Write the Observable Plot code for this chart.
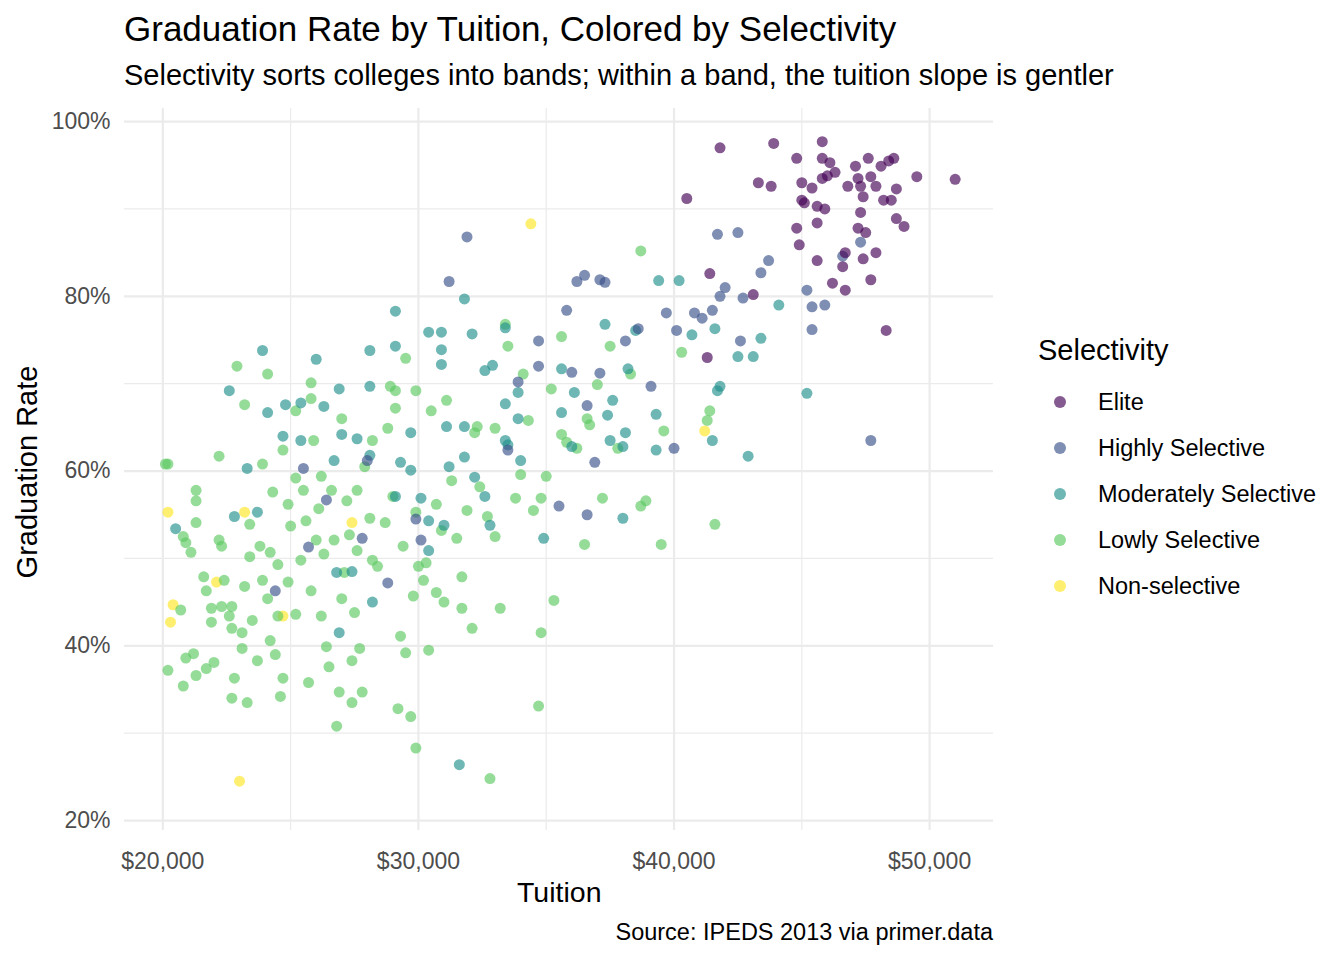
<!DOCTYPE html>
<html><head><meta charset="utf-8">
<script src="https://cdn.jsdelivr.net/npm/d3@7"></script>
<script src="https://cdn.jsdelivr.net/npm/@observablehq/plot@0.6"></script>
<style>
body{margin:0;background:#fff;font-family:"Liberation Sans",Arial,sans-serif;}
#wrap{position:relative;width:1344px;height:960px;}
.t{position:absolute;white-space:nowrap;color:#000;line-height:1;}
</style></head><body>
<div id="wrap">
<div class="t" style="left:124px;top:11px;font-size:35px">Graduation Rate by Tuition, Colored by Selectivity</div>
<div class="t" style="left:124px;top:61px;font-size:29px">Selectivity sorts colleges into bands; within a band, the tuition slope is gentler</div>
<div id="chart" style="position:absolute;left:0;top:100px"></div>
<div class="t" style="left:517px;top:878px;font-size:28.5px">Tuition</div>
<div class="t" style="left:27px;top:472px;font-size:29px;transform:translate(-50%,-50%) rotate(-90deg)">Graduation Rate</div>
<div class="t" style="right:351px;top:921px;font-size:23.5px">Source: IPEDS 2013 via primer.data</div>
<div id="legend"></div>
</div>
<script>
const categories=["Elite","Highly Selective","Moderately Selective","Lowly Selective","Non-selective"];
const colors=["#440154","#3b528b","#21918c","#5ec962","#fde725"];
const xTicks=[20,30,40,50];
const yTicks=[20,40,60,80,100];
// [tuition in $1000s, graduation rate %]
const elite=[[40.5,91.2],[41.8,97.0],[43.9,97.5],[43.3,93.0],[43.8,92.6],[44.8,95.8],[45.8,97.7],[45.8,95.8],[45.0,93.0],[45.4,92.4],[45.0,91.0],[45.1,90.7],[45.6,90.3],[45.9,90.0],[45.8,93.5],[46.0,93.8],[46.1,95.3],[46.3,94.2],[46.8,92.6],[47.1,94.9],[47.2,93.5],[47.3,92.6],[47.4,91.4],[47.6,95.8],[47.7,93.7],[47.9,92.6],[48.1,94.9],[48.4,95.5],[48.6,95.8],[48.7,92.3],[48.2,91.0],[48.5,91.0],[48.7,88.9],[49.0,88.0],[49.5,93.7],[51.0,93.4],[47.3,89.6],[47.2,87.8],[47.5,87.3],[47.4,84.3],[47.9,85.0],[45.6,88.4],[44.8,87.8],[44.9,85.9],[45.6,84.1],[46.7,85.0],[46.2,81.5],[46.7,80.7],[47.7,81.9],[43.1,80.2],[41.4,82.6],[41.3,73.0],[48.3,76.1],[46.6,83.4]];
const highly=[[31.9,86.8],[31.2,81.7],[36.2,81.7],[36.5,82.4],[37.1,81.9],[37.3,81.6],[35.8,78.4],[34.7,74.9],[34.7,72.0],[37.1,71.2],[36.0,71.3],[36.6,67.5],[38.1,74.9],[38.6,76.3],[39.7,78.1],[40.8,78.1],[41.1,77.5],[41.7,87.1],[42.5,87.3],[42.0,81.0],[41.8,80.0],[42.7,79.8],[42.6,74.9],[43.7,84.1],[43.4,82.7],[45.2,80.7],[45.4,78.8],[45.4,76.2],[45.9,79.0],[47.3,86.2],[46.6,84.6],[47.7,63.5],[40.0,62.6],[36.9,61.0],[35.5,56.0],[36.6,55.0],[40.1,76.1],[41.5,78.4],[33.9,70.2],[33.5,62.4],[29.9,54.5],[27.8,52.3],[24.4,46.3],[25.7,51.3],[25.5,60.3],[28.8,47.2],[28.0,61.2],[39.1,69.7],[26.4,56.7],[30.1,52.1]];
const moderately=[[23.9,73.8],[26.0,72.8],[29.1,78.3],[29.1,74.3],[31.8,79.7],[30.4,75.9],[30.9,75.9],[30.9,73.9],[30.9,72.2],[32.1,75.7],[33.4,76.4],[32.6,71.5],[32.9,72.1],[33.4,67.7],[33.9,69.0],[35.6,71.7],[37.3,76.8],[38.5,76.1],[39.4,81.8],[40.2,81.8],[40.7,75.6],[41.6,76.3],[41.7,69.2],[41.5,63.5],[42.5,73.1],[43.1,73.1],[43.4,75.2],[44.1,79.0],[42.9,61.7],[45.2,68.9],[41.8,69.7],[38.2,71.7],[37.6,68.1],[36.1,69.0],[35.6,66.7],[37.4,66.4],[38.0,62.8],[36.0,62.8],[38.1,64.4],[39.3,62.4],[39.3,66.5],[37.5,63.5],[38.0,54.6],[33.9,66.0],[33.4,63.5],[33.5,63.0],[34.0,61.2],[32.2,59.3],[32.6,57.1],[31.8,61.6],[31.8,65.1],[31.2,60.5],[30.4,54.3],[31.0,53.8],[30.4,50.9],[30.1,56.9],[29.7,60.1],[29.3,61.0],[29.1,57.1],[29.7,64.4],[28.1,69.7],[28.1,61.8],[27.6,63.7],[27.0,64.2],[26.7,61.2],[26.3,67.4],[25.4,67.8],[25.4,63.5],[24.8,67.6],[24.7,64.0],[24.1,66.7],[26.9,69.4],[28.1,73.8],[27.4,48.5],[26.8,48.4],[26.9,41.5],[28.2,45.0],[23.7,55.3],[22.8,54.8],[22.6,69.2],[23.3,60.3],[20.5,53.4],[31.6,26.4],[34.9,52.3],[32.8,53.8],[31.1,65.1]];
const lowly=[[20.1,60.8],[20.2,60.8],[20.2,37.2],[20.7,44.1],[20.8,35.4],[20.9,38.6],[20.9,51.8],[20.8,52.5],[21.1,50.7],[21.3,56.6],[21.3,57.8],[21.3,54.1],[21.2,39.1],[21.3,36.6],[21.6,47.9],[21.7,46.3],[21.7,37.4],[21.9,42.7],[21.9,44.3],[22.0,38.1],[22.2,61.7],[22.2,52.1],[22.3,51.4],[22.3,44.5],[22.4,47.5],[22.6,43.4],[22.7,44.5],[22.7,42.0],[22.8,36.3],[22.7,34.0],[22.9,72.0],[23.1,41.5],[23.1,39.7],[23.2,46.8],[23.2,67.6],[23.3,33.5],[23.4,53.9],[23.4,50.2],[23.5,42.9],[23.7,38.3],[23.8,51.4],[23.9,47.5],[23.9,60.8],[24.1,71.1],[24.1,45.4],[24.2,50.7],[24.2,40.6],[24.3,57.6],[24.4,39.0],[24.5,49.3],[24.5,43.4],[24.6,34.2],[24.7,36.3],[24.7,62.4],[24.9,56.2],[24.9,47.3],[25.0,53.7],[25.2,66.9],[25.2,43.6],[25.2,59.2],[25.4,49.8],[25.5,57.8],[25.6,54.3],[25.7,35.8],[25.8,70.1],[25.8,46.3],[25.9,63.5],[26.0,52.1],[26.1,55.7],[26.2,43.4],[26.2,59.4],[26.3,50.5],[26.4,39.9],[26.5,37.6],[26.6,57.8],[26.7,52.1],[26.8,30.8],[26.9,34.7],[27.0,45.4],[27.0,66.0],[27.1,48.4],[27.2,56.6],[27.3,52.7],[27.4,33.5],[27.4,38.3],[27.5,43.8],[27.6,50.9],[27.6,57.8],[27.7,39.7],[27.8,34.7],[27.9,60.5],[28.1,54.6],[28.2,63.5],[28.2,49.8],[28.4,49.1],[28.7,54.1],[28.8,64.9],[28.9,69.7],[29.0,57.1],[29.1,67.2],[29.2,32.8],[29.3,41.1],[29.4,51.4],[29.5,72.9],[29.5,39.2],[29.7,31.9],[29.8,45.7],[29.9,28.3],[29.9,55.3],[30.0,49.1],[30.2,47.5],[30.3,49.5],[30.4,39.5],[30.5,66.9],[30.7,56.2],[30.7,46.1],[30.9,53.2],[31.0,45.0],[31.1,68.1],[31.3,58.9],[31.5,52.3],[31.7,47.9],[31.7,44.3],[31.9,55.5],[32.1,42.0],[32.2,64.4],[32.4,58.2],[32.7,54.8],[32.8,24.8],[33.0,64.9],[33.0,52.5],[33.2,44.3],[33.4,76.8],[33.5,74.3],[33.8,56.9],[34.0,59.6],[34.1,71.1],[34.3,65.8],[34.5,55.5],[34.7,33.1],[34.8,56.9],[34.8,41.5],[35.0,59.4],[35.2,69.4],[35.3,45.2],[35.6,75.4],[35.8,63.3],[36.2,62.6],[36.5,51.6],[36.7,65.3],[37.0,69.9],[37.2,56.9],[37.5,74.3],[37.8,62.6],[38.3,71.1],[38.7,85.2],[38.7,56.0],[38.9,56.6],[39.5,51.6],[39.6,64.6],[40.3,73.6],[41.4,66.9],[41.6,53.9],[41.3,65.8],[36.6,66.0],[35.6,64.2],[32.3,65.1],[29.9,69.2],[29.1,69.2],[25.8,68.3]];
const nonselective=[[20.2,55.3],[20.3,42.7],[20.4,44.7],[22.1,47.3],[23.0,24.5],[23.2,55.3],[24.7,43.4],[27.4,54.1],[34.4,88.3],[41.2,64.6]];

const groups=[elite,highly,moderately,lowly,nonselective];
const data=groups.flatMap((g,i)=>g.map(([x,y])=>({tuition:x,rate:y,sel:categories[i]})));
data.reverse();
const chart=Plot.plot({
  width:1000,height:830,marginLeft:124,marginRight:7,marginTop:8,marginBottom:100,
  style:{fontFamily:"Liberation Sans, Arial, sans-serif",color:"#4d4d4d"},
  x:{domain:[18.5,52.5],label:null},
  y:{domain:[18.86,101.5],label:null},
  color:{domain:categories,range:colors},
  marks:[
    Plot.ruleX([25,35,45],{stroke:"#ebebeb",strokeWidth:1.2}),
    Plot.ruleY([30,50,70,90],{stroke:"#ebebeb",strokeWidth:1.2}),
    Plot.ruleX(xTicks,{stroke:"#ebebeb",strokeWidth:2.2}),
    Plot.ruleY(yTicks,{stroke:"#ebebeb",strokeWidth:2.2}),
    Plot.axisX(xTicks,{tickSize:0,tickPadding:22,fontSize:23,tickFormat:d=>"$"+d+",000",label:null,fill:"#4d4d4d"}),
    Plot.axisY(yTicks,{tickSize:0,tickPadding:14,fontSize:23,tickFormat:d=>d+"%",label:null,fill:"#4d4d4d"}),
    Plot.dot(data,{x:"tuition",y:"rate",fill:"sel",r:5.5,fillOpacity:0.65,stroke:"none"})
  ]
});
document.getElementById("chart").appendChild(chart);
const lg=document.getElementById("legend");
let h=`<div class="t" style="left:1038px;top:336px;font-size:29px">Selectivity</div>`;
categories.forEach((c,i)=>{
  const y=402+46*i;
  h+=`<div style="position:absolute;left:${1054}px;top:${y-6}px;width:12px;height:12px;border-radius:50%;background:${colors[i]};opacity:0.65"></div>`;
  h+=`<div class="t" style="left:1098px;top:${y-11}px;font-size:23.5px">${c}</div>`;
});
lg.innerHTML=h;
</script>
</body></html>
